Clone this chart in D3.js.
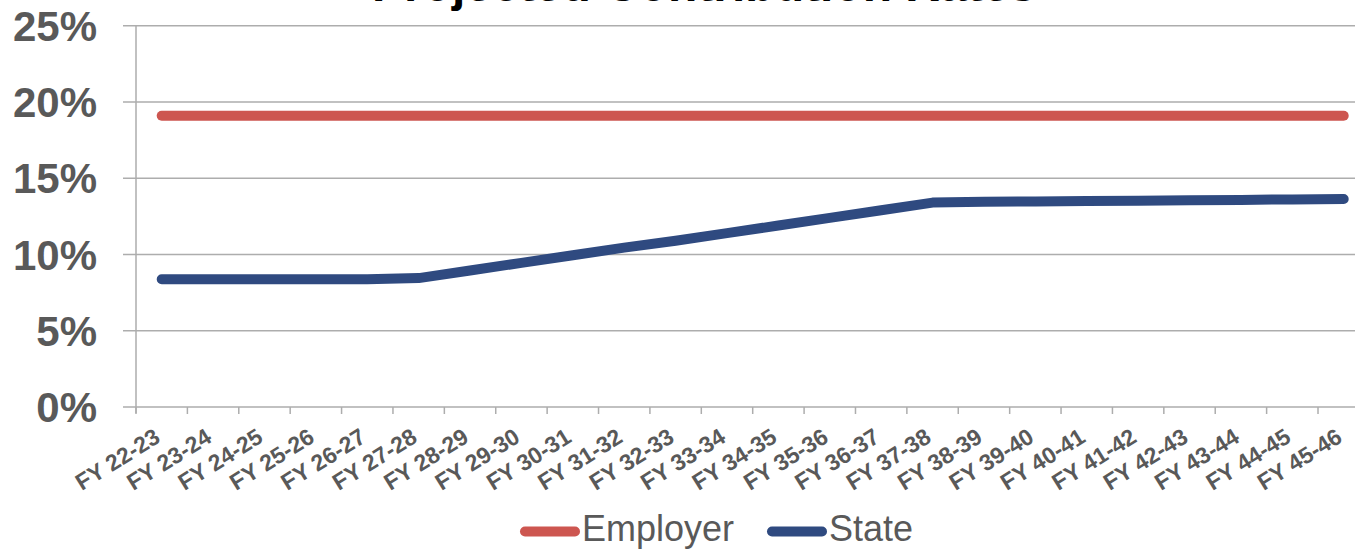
<!DOCTYPE html>
<html>
<head>
<meta charset="utf-8">
<script src="https://cdn.jsdelivr.net/npm/d3@7"></script>
<style>
  html, body { margin: 0; padding: 0; background: #fff; }
  svg { display: block; font-family: "Liberation Sans", Arial, sans-serif; }
</style>
</head>
<body>
<svg id="chart" width="1355" height="549"></svg>
<script>
const categories = ["FY 22-23","FY 23-24","FY 24-25","FY 25-26","FY 26-27","FY 27-28","FY 28-29","FY 29-30","FY 30-31","FY 31-32","FY 32-33","FY 33-34","FY 34-35","FY 35-36","FY 36-37","FY 37-38","FY 38-39","FY 39-40","FY 40-41","FY 41-42","FY 42-43","FY 43-44","FY 44-45","FY 45-46"];
const employerValues = [19.1,19.1,19.1,19.1,19.1,19.1,19.1,19.1,19.1,19.1,19.1,19.1,19.1,19.1,19.1,19.1,19.1,19.1,19.1,19.1,19.1,19.1,19.1,19.1];
const stateValues = [8.38,8.38,8.38,8.38,8.38,8.45,8.95,9.45,9.95,10.45,10.9,11.4,11.9,12.4,12.9,13.4,13.45,13.48,13.5,13.52,13.55,13.58,13.61,13.64];
const yTicks = [0,5,10,15,20,25];
const seriesNames = ["Employer","State"];
const seriesColors = ["#CD5650","#2F4A80"];
const titleText = "Projected Contribution Rates";

const svg = d3.select("#chart");
const x = d3.scaleBand().domain(categories).range([136, 1369.4]).padding(0);
const y = d3.scaleLinear().domain([0,25]).range([407, 25.7]);
const gridColor = "#ADADAD";

// title (cropped at top)
svg.append("text").attr("x", 704).attr("y", 0.8).attr("text-anchor","middle")
  .attr("font-size", 48).attr("font-weight","bold").attr("fill","#000").text(titleText);

// gridlines
svg.append("g").selectAll("line").data(yTicks).join("line")
  .attr("x1", 123).attr("x2", 1355)
  .attr("y1", d => y(d)).attr("y2", d => y(d))
  .attr("stroke", gridColor).attr("stroke-width", 1.5);

// y axis line
svg.append("line").attr("x1", 136).attr("x2", 136).attr("y1", y(25)).attr("y2", y(0)+6)
  .attr("stroke", gridColor).attr("stroke-width", 1.5);

// x ticks at band boundaries
const bounds = categories.map(c => x(c)).concat([x(categories[categories.length-1]) + x.bandwidth()]);
svg.append("g").selectAll("line").data(bounds).join("line")
  .attr("x1", d => d).attr("x2", d => d).attr("y1", y(0)).attr("y2", y(0)+7)
  .attr("stroke", gridColor).attr("stroke-width", 1.5);

// y labels
svg.append("g").selectAll("text").data(yTicks).join("text")
  .attr("x", 97).attr("y", d => y(d)).attr("dy","0.36em")
  .attr("text-anchor","end").attr("font-size", 42).attr("font-weight","bold").attr("fill","#595959")
  .text(d => d + "%");

// x labels
svg.append("g").selectAll("text").data(categories).join("text")
  .attr("transform", d => `translate(${x(d) + x.bandwidth()/2},${441}) rotate(-32)`)
  .attr("text-anchor","end").attr("font-size", 23).attr("font-weight","bold").attr("fill","#595959")
  .text(d => d);

// lines
const line = d3.line().x((d,i) => x(categories[i]) + x.bandwidth()/2).y(d => y(d));
[employerValues, stateValues].forEach((vals, i) => {
  svg.append("path").datum(vals).attr("d", line)
    .attr("fill","none").attr("stroke", seriesColors[i]).attr("stroke-width", 10)
    .attr("stroke-linecap","round").attr("stroke-linejoin","round");
});

// legend
const legendItems = [{x: 520, name: seriesNames[0], color: seriesColors[0]}, {x: 767, name: seriesNames[1], color: seriesColors[1]}];
const lg = svg.append("g");
legendItems.forEach(it => {
  lg.append("line").attr("x1", it.x + 5).attr("x2", it.x + 55).attr("y1", 531.5).attr("y2", 531.5)
    .attr("stroke", it.color).attr("stroke-width", 10).attr("stroke-linecap","round");
  lg.append("text").attr("x", it.x + 62).attr("y", 541)
    .attr("font-size", 36).attr("fill","#595959").text(it.name);
});
</script>
</body>
</html>
